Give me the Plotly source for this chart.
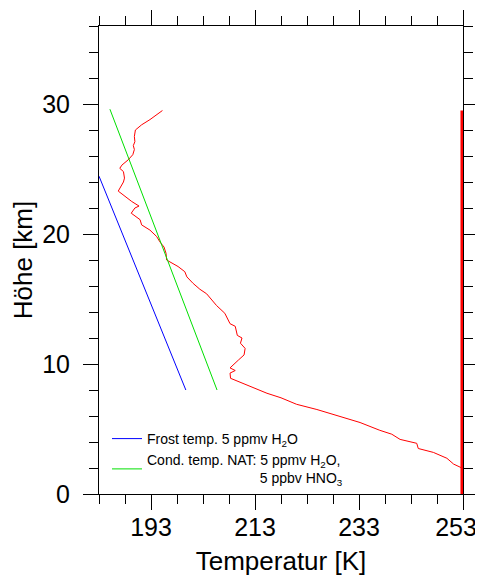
import plotly.graph_objects as go

# Measured temperature profile (K) vs height (km)
temp_profile = [195.2, 194.1, 192.8, 191.2, 190.0, 189.8, 189.9, 189.6, 189.8, 189.5,
                188.6, 187.4, 187.0, 187.7, 187.9, 187.7, 186.9, 186.7, 188.0, 189.3,
                190.7, 189.9, 189.2, 189.8, 190.9, 191.2, 192.8, 194.1, 194.7, 195.5,
                195.9, 196.0, 197.0, 198.2, 199.5, 199.9, 201.1, 202.4, 203.7, 205.6,
                207.2, 208.2, 209.2, 209.6, 210.5, 210.2, 211.1, 210.9, 209.8, 209.2,
                208.2, 209.2, 208.2, 208.3, 209.5, 212.0, 215.3, 218.0, 221.0, 224.9,
                229.3, 233.2, 237.0, 239.3, 240.9, 244.1, 244.4, 247.3, 249.9, 251.2, 252.8]
height_profile = [29.5, 29.15, 28.8, 28.4, 28.0, 27.5, 27.1, 26.8, 26.5, 26.1,
                  25.7, 25.3, 25.05, 24.8, 24.3, 24.0, 23.5, 23.3, 22.9, 22.5,
                  22.15, 22.0, 21.6, 21.4, 21.1, 20.7, 20.3, 19.8, 19.4, 19.0,
                  18.5, 18.0, 17.8, 17.5, 17.1, 16.7, 16.2, 15.75, 15.4, 14.5,
                  13.9, 13.1, 12.9, 12.2, 12.0, 11.6, 11.2, 10.7, 10.3, 10.05,
                  9.7, 9.5, 9.3, 8.9, 8.7, 8.25, 7.75, 7.4, 6.9, 6.5,
                  5.95, 5.5, 4.9, 4.6, 4.2, 3.9, 3.5, 3.2, 2.75, 2.3, 2.0]

# Clipped profile segment along the right edge
clip_temp = [252.8, 252.8]
clip_height = [0.0, 29.5]

# Frost temperature, 5 ppmv H2O
frost_temp = [183.0, 199.7]
frost_height = [24.45, 8.0]

# NAT condensation temperature
nat_temp = [185.1, 205.7]
nat_height = [29.6, 8.0]

x_major = [193, 213, 233, 253]
x_labels = ["193", "213", "233", "253\u00a0\u00a0"]
x_minor = list(range(183, 254, 5))
y_major = [0, 10, 20, 30]
y_minor = list(range(0, 37, 2))

FONT = "Arial, Liberation Sans, sans-serif"

fig = go.Figure()
fig.add_trace(go.Scatter(x=temp_profile, y=height_profile, mode="lines",
                         line=dict(color="#ff0000", width=1), showlegend=False))
fig.add_trace(go.Scatter(x=clip_temp, y=clip_height, mode="lines",
                         line=dict(color="#ff0000", width=3), showlegend=False))
fig.add_trace(go.Scatter(x=frost_temp, y=frost_height, mode="lines",
                         line=dict(color="#0000ff", width=1),
                         name="Frost temp. 5 ppmv H<sub>2</sub>O"))
fig.add_trace(go.Scatter(x=nat_temp, y=nat_height, mode="lines",
                         line=dict(color="#00e000", width=1),
                         name="Cond. temp. NAT: 5 ppmv H<sub>2</sub>O,<br>"
                              + "\u00a0" * 29 + "5 ppbv HNO<sub>3</sub>"))

axis_common = dict(showgrid=False, zeroline=False, showline=True, linecolor="black",
                   linewidth=1, ticks="outside", ticklen=15, tickwidth=1,
                   tickcolor="black", mirror="allticks", automargin=False,
                   ticklabeloverflow="allow",
                   tickfont=dict(family=FONT, size=25, color="black"))

fig.update_xaxes(range=[183, 253], tickvals=x_major, ticktext=x_labels,
                 minor=dict(tickvals=x_minor, ticklen=9, ticks="outside", tickcolor="black"),
                 ticklabelstandoff=-4,
                 title=dict(text="Temperatur [K]", standoff=13,
                            font=dict(family=FONT, size=26, color="black")),
                 **axis_common)
fig.update_yaxes(range=[0, 36], tickvals=y_major,
                 minor=dict(tickvals=y_minor, ticklen=9, ticks="outside", tickcolor="black"),
                 ticklabelstandoff=8,
                 title=dict(text="Höhe [km]", standoff=13,
                            font=dict(family=FONT, size=26, color="black")),
                 **axis_common)

fig.update_layout(
    width=475, height=568,
    margin=dict(l=91, r=20, t=18, b=82),
    plot_bgcolor="white", paper_bgcolor="white",
    legend=dict(x=0.022, y=0.0, xanchor="left", yanchor="bottom",
                bgcolor="rgba(0,0,0,0)", tracegroupgap=0, itemwidth=30,
                font=dict(family=FONT, size=14, color="black")),
)

fig.write_html("out.html")
